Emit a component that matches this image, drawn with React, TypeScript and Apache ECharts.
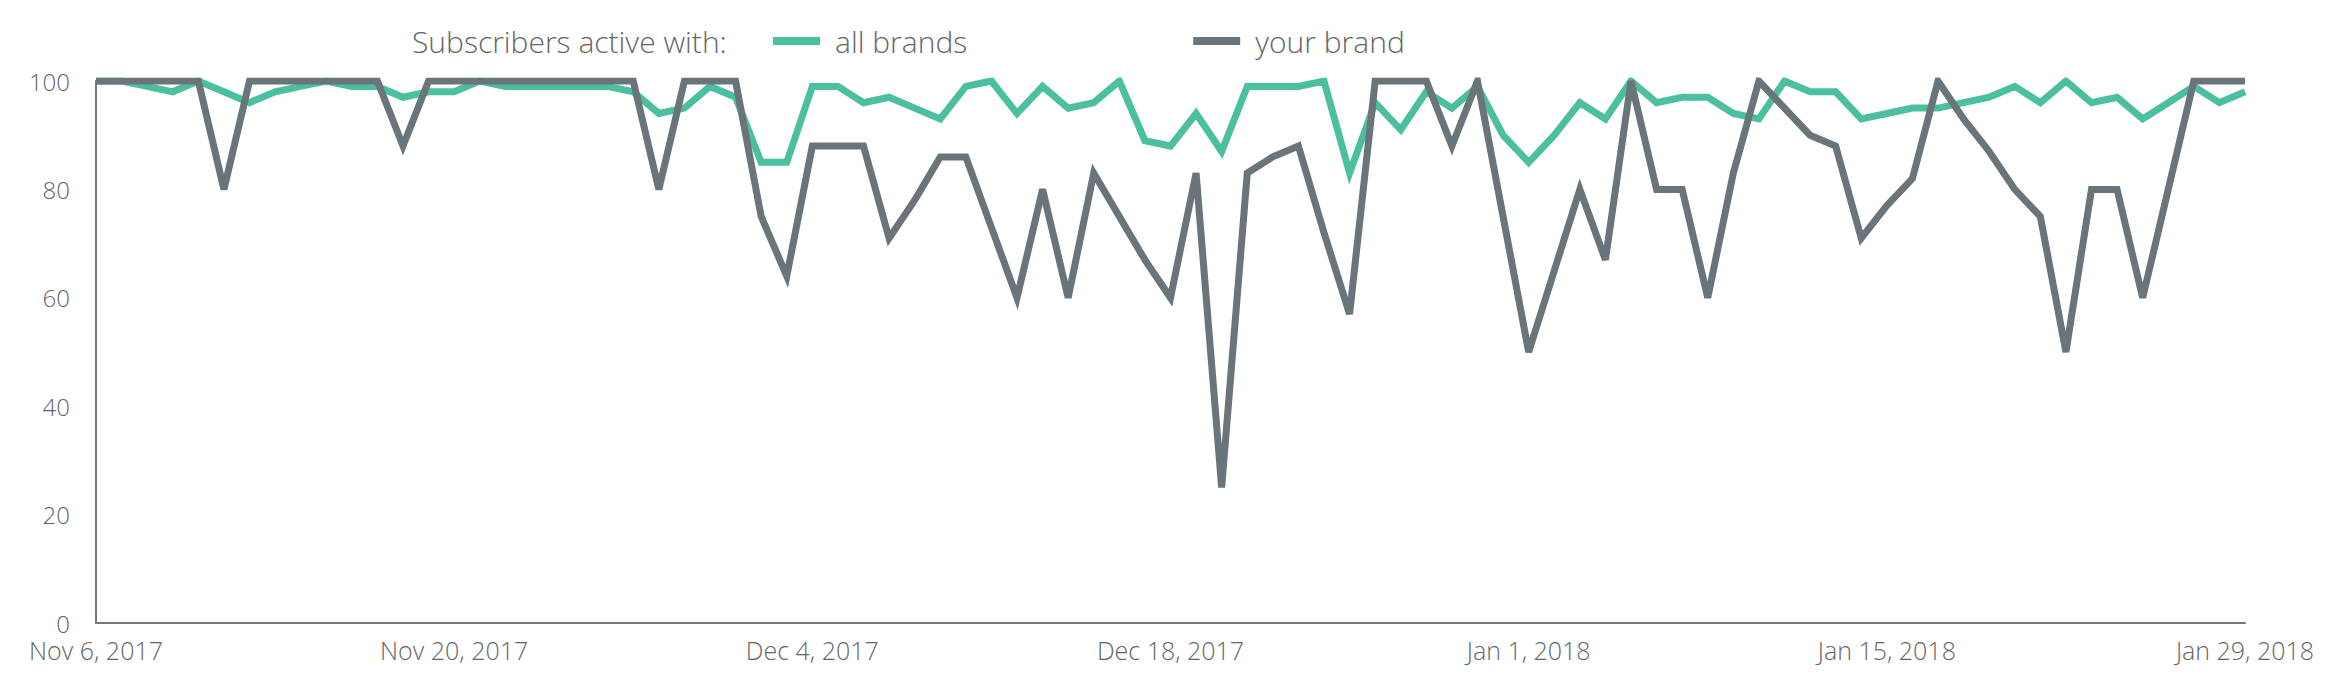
import React, { useEffect, useRef } from "react";
import * as echarts from "echarts";

const START_DATE = { year: 2017, month: 10, day: 6 };
const MONTHS = ["Jan", "Feb", "Mar", "Apr", "May", "Jun", "Jul", "Aug", "Sep", "Oct", "Nov", "Dec"];

const allBrands = [
  100, 100, 99, 98, 100, 98, 96, 98, 99, 100,
  99, 99, 97, 98, 98, 100, 99, 99, 99, 99,
  99, 98, 94, 95, 99, 97, 85, 85, 99, 99,
  96, 97, 95, 93, 99, 100, 94, 99, 95, 96,
  100, 89, 88, 94, 87, 99, 99, 99, 100, 83,
  96, 91, 98, 95, 99, 90, 85, 90, 96, 93,
  100, 96, 97, 97, 94, 93, 100, 98, 98, 93,
  94, 95, 95, 96, 97, 99, 96, 100, 96, 97,
  93, 96, 99, 96, 98,
];

const yourBrand = [
  100, 100, 100, 100, 100, 80, 100, 100, 100, 100,
  100, 100, 88, 100, 100, 100, 100, 100, 100, 100,
  100, 100, 80, 100, 100, 100, 75, 64, 88, 88,
  88, 71, 78, 86, 86, 73, 60, 80, 60, 83,
  75, 67, 60, 83, 25, 83, 86, 88, 72, 57,
  100, 100, 100, 88, 100, 75, 50, 65, 80, 67,
  100, 80, 80, 60, 83, 100, 95, 90, 88, 71,
  77, 82, 100, 93, 87, 80, 75, 50, 80, 80,
  60, 80, 100, 100, 100,
];

const seriesNames = ["all brands", "your brand"];
const legendTitle = "Subscribers active with:";
const yTicks = { min: 0, max: 100, interval: 20 };

function buildDates(n: number): string[] {
  const out: string[] = [];
  for (let i = 0; i < n; i++) {
    const d = new Date(Date.UTC(START_DATE.year, START_DATE.month, START_DATE.day + i));
    out.push(`${MONTHS[d.getUTCMonth()]} ${d.getUTCDate()}, ${d.getUTCFullYear()}`);
  }
  return out;
}

const categories = buildDates(allBrands.length);

const GREEN = "#4bbf9f";
const GRAY = "#6a747b";
const TEXT = "#666666";
const FONT = "'Open Sans', sans-serif";

export default function App() {
  const ref = useRef<HTMLDivElement>(null);

  useEffect(() => {
    document.body.style.margin = "0";
    if (!ref.current) return;
    const chart = echarts.init(ref.current, null, { renderer: "svg" });
    chart.setOption({
      animation: false,
      backgroundColor: "#ffffff",
      textStyle: { fontFamily: FONT },
      title: {
        text: legendTitle,
        left: 412,
        top: 21,
        padding: 0,
        textStyle: { fontFamily: FONT, fontSize: 30, fontWeight: 300, color: TEXT, lineHeight: 40 },
      },
      legend: {
        data: seriesNames,
        left: 773,
        top: 21,
        padding: 0,
        icon: "rect",
        itemWidth: 47,
        itemHeight: 8,
        itemGap: 226,
        textStyle: {
          fontFamily: FONT,
          fontSize: 30,
          fontWeight: 300,
          color: TEXT,
          lineHeight: 40,
          padding: [0, 0, 0, 10],
        },
      },
      grid: { left: 96, right: 86, top: 81, bottom: 58, containLabel: false },
      xAxis: {
        type: "category",
        data: categories,
        boundaryGap: false,
        axisLine: { show: true, lineStyle: { color: "#777777", width: 2 } },
        axisTick: { show: false },
        splitLine: { show: false },
        axisLabel: {
          interval: 13,
          margin: 14,
          fontFamily: FONT,
          fontSize: 25,
          fontWeight: 300,
          color: TEXT,
          showMinLabel: true,
          showMaxLabel: true,
          hideOverlap: false,
        },
      },
      yAxis: {
        type: "value",
        min: yTicks.min,
        max: yTicks.max,
        interval: yTicks.interval,
        axisLine: { show: true, lineStyle: { color: "#777777", width: 2 } },
        axisTick: { show: false },
        splitLine: { show: false },
        axisLabel: { margin: 26, fontFamily: FONT, fontSize: 24, fontWeight: 300, color: TEXT },
      },
      series: [
        {
          name: seriesNames[0],
          type: "line",
          data: allBrands,
          showSymbol: false,
          itemStyle: { color: GREEN },
          lineStyle: { color: GREEN, width: 7, join: "miter", miterLimit: 4 },
          z: 2,
        },
        {
          name: seriesNames[1],
          type: "line",
          data: yourBrand,
          showSymbol: false,
          itemStyle: { color: GRAY },
          lineStyle: { color: GRAY, width: 7, join: "miter", miterLimit: 4 },
          z: 3,
        },
      ],
    });
    return () => chart.dispose();
  }, []);

  return <div ref={ref} style={{ width: 2331, height: 681 }} />;
}
